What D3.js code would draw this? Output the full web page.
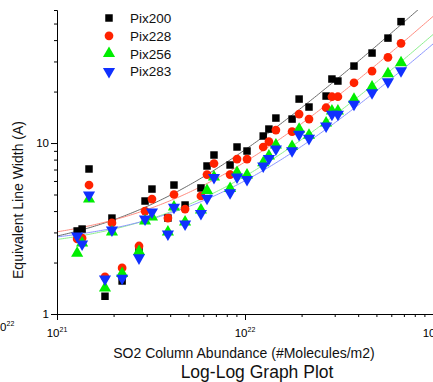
<!DOCTYPE html>
<html>
<head>
<meta charset="utf-8">
<script src="https://cdn.jsdelivr.net/npm/d3@7"></script>
<style>
  body { margin: 0; background: #fff; }
  text { font-family: Arial, "Liberation Sans", sans-serif; }
</style>
</head>
<body>
<script>
// data
const seriesNames = ["Pix200", "Pix228", "Pix256", "Pix283"];
const seriesColors = ["#000000", "#ff2200", "#00ee00", "#1030ff"];
const lineColors = ["#6a6a6a", "#ff8c80", "#8cf08c", "#8c96ff"];

const abundance = [1.28e21, 1.36e21, 1.48e21, 1.80e21, 1.96e21, 2.22e21, 2.73e21, 2.94e21,
  3.20e21, 3.89e21, 4.19e21, 4.80e21, 5.83e21, 6.28e21, 6.84e21, 8.33e21, 9.07e21, 1.025e22,
  1.25e22, 1.34e22, 1.46e22, 1.78e22, 1.94e22, 2.19e22, 2.70e22, 2.90e22, 3.12e22, 3.80e22,
  4.74e22, 5.76e22, 6.76e22];

const pix200 = [3.06, 3.14, 7.05, 1.27, 3.64, 1.56, 2.35, 4.58, 5.38, 3.64, 5.68, 4.34, 5.46,
  7.34, 8.51, 7.44, 9.48, 8.98, 10.99, 12.07, 14.0, 13.81, 18.08, 16.24, 18.83, 23.68, 23.05,
  28.2, 33.6, 41.1, 51.3];
const pix228 = [2.75, 2.78, 5.68, 1.65, 3.41, 1.86, 2.50, 4.00, 4.70, 3.64, 5.00, 4.11, 4.90,
  6.54, 7.59, 6.54, 8.06, 8.06, 9.48, 10.18, 11.91, 11.65, 14.77, 13.81, 16.09, 18.66, 18.66,
  22.52, 26.36, 31.7, 38.3];
const pix256 = [2.30, 2.64, 4.77, 1.44, 3.06, 1.75, 2.35, 3.55, 3.74, 3.06, 4.28, 3.50, 4.11,
  5.35, 6.41, 5.49, 6.81, 6.59, 7.77, 8.51, 9.87, 9.67, 12.19, 11.24, 13.27, 15.6, 15.6,
  18.26, 21.54, 25.77, 29.88];
const pix283 = [2.86, 2.57, 4.96, 1.60, 3.10, 1.62, 2.13, 3.59, 3.95, 2.94, 4.21, 3.36, 3.87,
  4.75, 6.29, 5.12, 6.33, 6.12, 7.34, 8.12, 9.22, 9.02, 11.24, 10.65, 12.57, 14.72, 14.72,
  16.84, 19.68, 22.83, 26.48];

// linear fits (y = a + b*x) drawn on log-log axes
const fitIntercept = [2.16, 2.50, 2.32, 2.47];
const fitSlope = [6.97e-22, 5.25e-22, 4.08e-22, 3.55e-22];

const yMajor = [1, 10];
const yMinor = [2, 3, 4, 5, 6, 7, 8, 9, 20, 30, 40, 50, 60];
const xMajor = [1e21, 1e22, 1e23];
const xMinor = [2e21, 3e21, 4e21, 5e21, 6e21, 7e21, 8e21, 9e21,
  2e22, 3e22, 4e22, 5e22, 6e22, 7e22, 8e22, 9e22];

const allSeries = [pix200, pix228, pix256, pix283];
const shapes = [d3.symbolSquare, d3.symbolCircle, d3.symbolTriangle, d3.symbolTriangle];
const sizes = [56, 60, 64, 64];

const W = 433, H = 382;
const m = {left: 57, right: 433, top: 10, bottom: 314};

const svg = d3.select("body").append("svg").attr("width", W).attr("height", H);

const x = d3.scaleLog().domain([1e21, 1e23]).range([m.left, m.right]);
const y = d3.scaleLog().domain([1, 60]).range([m.bottom, m.top]);

svg.append("clipPath").attr("id", "plot")
  .append("rect").attr("x", m.left).attr("y", m.top).attr("width", m.right - m.left).attr("height", m.bottom - m.top);

// fit lines
const xs = d3.range(0, 201).map(i => Math.pow(10, 21 + 2 * i / 200));
const line = d3.line().x(d => x(d[0])).y(d => y(d[1]));
allSeries.forEach((s, k) => {
  const pts = xs.map(v => [v, fitIntercept[k] + fitSlope[k] * v]);
  svg.append("path").attr("d", line(pts))
    .attr("fill", "none").attr("stroke", lineColors[k]).attr("stroke-width", 1)
    .attr("clip-path", "url(#plot)");
});

// points
allSeries.forEach((s, k) => {
  const sym = d3.symbol().type(shapes[k]).size(sizes[k]);
  svg.append("g").selectAll("path")
    .data(s.map((v, i) => [abundance[i], v]))
    .join("path")
    .attr("d", sym)
    .attr("transform", d => `translate(${x(d[0])},${y(d[1])})` + (k === 3 ? " rotate(180)" : (k === 2 ? " translate(0,1)" : "")))
    .attr("fill", seriesColors[k]);
});

// y axis
svg.append("g").attr("transform", `translate(${m.left},0)`)
  .call(d3.axisLeft(y).tickValues(yMinor).tickSize(3).tickSizeOuter(0).tickFormat(""));
const yAx = svg.append("g").attr("transform", `translate(${m.left},0)`)
  .call(d3.axisLeft(y).tickValues(yMajor).tickSize(6).tickSizeOuter(0).tickFormat(d3.format("d")));
yAx.selectAll("text").attr("font-size", 11.5).attr("x", -8);

// x axis
svg.append("g").attr("transform", `translate(0,${m.bottom})`)
  .call(d3.axisBottom(x).tickValues(xMinor).tickSize(3).tickSizeOuter(0).tickFormat(""));
svg.append("g").attr("transform", `translate(0,${m.bottom})`)
  .call(d3.axisBottom(x).tickValues(xMajor).tickSize(6).tickSizeOuter(0).tickFormat(""));

svg.selectAll(".domain").attr("stroke", "#000");

const expLabel = (px, py, exp) => {
  const t = svg.append("text").attr("x", px).attr("y", py).attr("font-size", 11.5).attr("text-anchor", "middle");
  t.append("tspan").text("10");
  t.append("tspan").attr("font-size", 7).attr("dy", -5).text(exp);
};
xMajor.forEach(v => expLabel(x(v), 337, String(Math.round(Math.log10(v)))));
expLabel(4, 331, "22");

// titles
svg.append("text").attr("x", 244).attr("y", 358).attr("text-anchor", "middle")
  .attr("font-size", 14).attr("fill", "#111").text("SO2 Column Abundance (#Molecules/m2)");
svg.append("text").attr("x", 257).attr("y", 378).attr("text-anchor", "middle")
  .attr("font-size", 17.5).attr("fill", "#111").text("Log-Log Graph Plot");
svg.append("text").attr("transform", "translate(23,200) rotate(-90)").attr("text-anchor", "middle")
  .attr("font-size", 14).attr("fill", "#111").text("Equivalent Line Width (A)");

// legend
seriesNames.forEach((name, k) => {
  const ly = 18 + k * 17.8;
  svg.append("path").attr("d", d3.symbol().type(shapes[k]).size(sizes[k])())
    .attr("transform", `translate(109,${ly})` + (k === 3 ? " rotate(180)" : ""))
    .attr("fill", seriesColors[k]);
  svg.append("text").attr("x", 130).attr("y", ly + 5).attr("font-size", 13.5).attr("fill", "#111").text(name);
});
</script>
</body>
</html>
